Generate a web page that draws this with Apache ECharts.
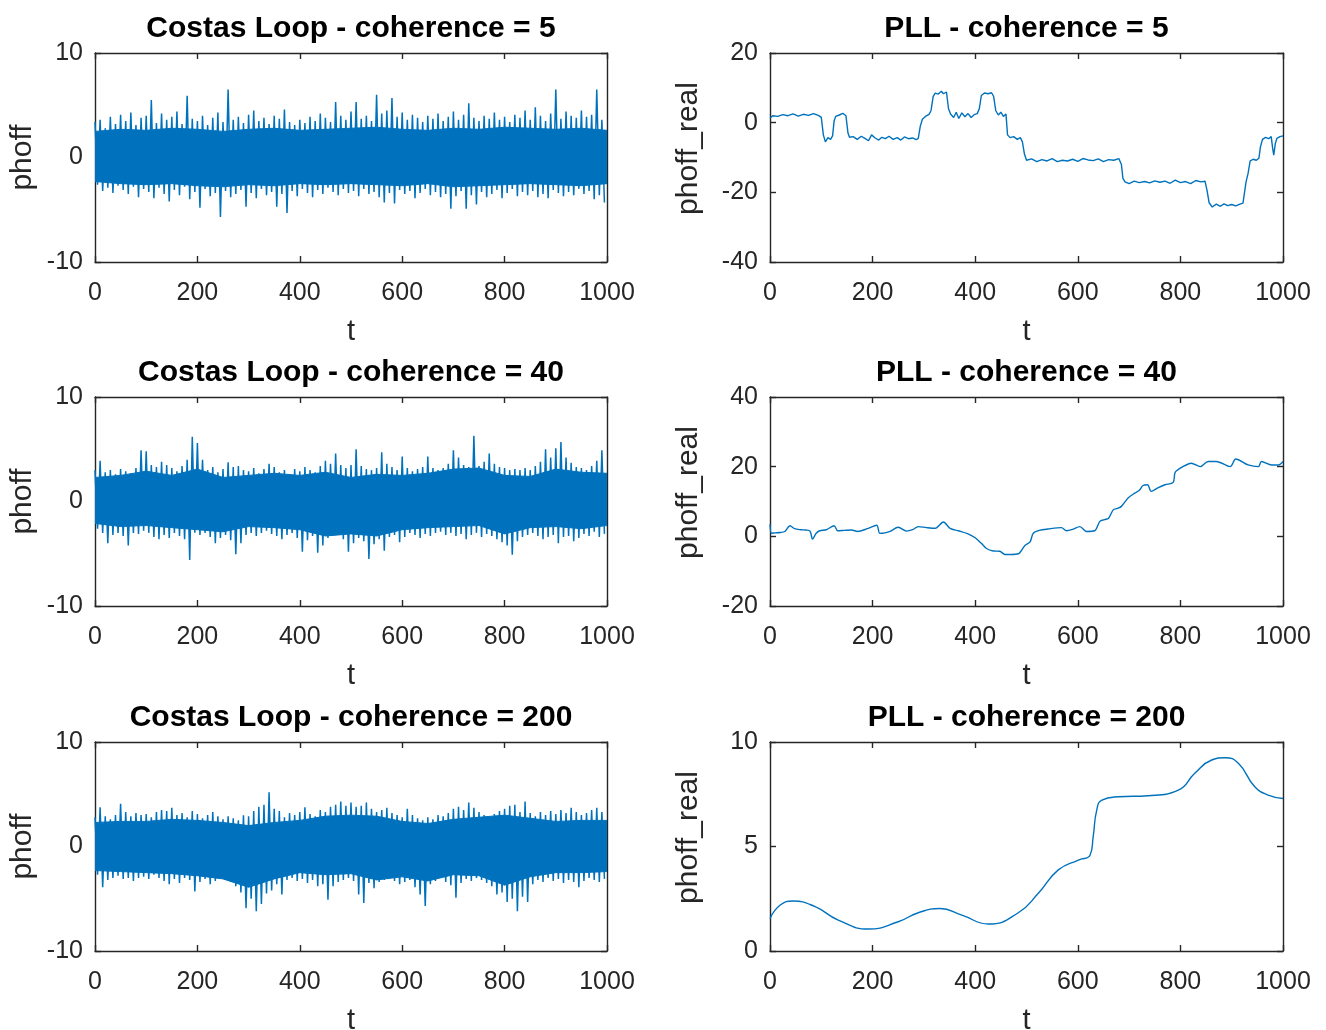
<!DOCTYPE html>
<html>
<head>
<meta charset="utf-8">
<script src="https://cdn.jsdelivr.net/npm/echarts@6/dist/echarts.min.js"></script>
<style>
html,body{margin:0;padding:0;background:#fff;}
#chart{width:1326px;height:1030px;}
</style>
</head>
<body>
<div id="chart"></div>
<script>
// ---------- DATA ----------
const titles = ['Costas Loop - coherence = 5','PLL - coherence = 5','Costas Loop - coherence = 40','PLL - coherence = 40','Costas Loop - coherence = 200','PLL - coherence = 200'];
const yNames = ['phoff','phoff_real','phoff','phoff_real','phoff','phoff_real'];
const xTicks = [0,200,400,600,800,1000];
const yRanges = [[-10,10,10],[-40,20,20],[-10,10,10],[-20,40,20],[-10,10,10],[0,10,5]];

// Costas loop: upper / lower extremes of the noise per 10 t
const c5Hi = [3.4,3.6,2.8,3.9,3.2,4.1,3.5,4.3,3.1,3.8,4.0,5.5,3.3,4.2,3.6,3.9,4.4,3.2,5.9,3.7,3.5,4.0,3.1,3.8,4.3,3.4,6.5,3.6,3.9,3.3,4.1,4.5,3.5,3.8,3.2,4.0,3.7,4.6,3.4,3.1,3.6,3.3,3.9,3.5,4.2,3.8,3.4,5.3,4.0,3.6,4.4,5.3,3.7,4.0,3.5,6.0,4.2,4.5,5.7,3.9,4.3,3.6,4.1,3.8,3.4,4.0,3.7,4.2,3.5,3.9,4.4,3.6,4.1,5.2,3.8,3.5,4.0,3.7,4.3,3.6,3.9,3.4,4.1,3.8,4.5,3.6,4.8,4.0,3.5,4.2,6.5,3.7,4.4,4.0,3.8,4.5,3.9,4.1,6.5,3.6];
const c5Lo = [-2.6,-3.2,-2.9,-3.4,-2.7,-3.1,-3.5,-2.8,-3.8,-3.0,-3.3,-3.9,-2.9,-3.5,-4.2,-3.1,-3.6,-2.8,-4.0,-3.3,-4.8,-3.0,-3.7,-3.4,-5.7,-3.2,-3.8,-3.5,-3.1,-4.7,-3.4,-3.9,-3.0,-3.6,-3.3,-4.7,-3.5,-5.3,-3.2,-3.7,-3.0,-3.4,-3.8,-3.1,-3.5,-2.9,-3.3,-3.6,-3.0,-3.4,-3.2,-3.7,-3.0,-3.5,-3.3,-3.8,-4.3,-3.4,-4.4,-3.1,-3.5,-3.2,-3.9,-3.4,-3.0,-3.6,-3.3,-3.8,-3.5,-4.9,-3.7,-3.2,-4.9,-3.6,-4.5,-3.3,-3.8,-3.5,-3.1,-3.9,-3.4,-3.0,-3.7,-3.3,-3.6,-3.2,-3.8,-3.5,-3.9,-3.1,-3.4,-3.7,-3.3,-3.6,-3.0,-3.5,-3.2,-4.0,-3.6,-4.3];
const c40Hi = [3.0,3.9,2.8,3.0,2.6,3.1,2.9,2.7,3.2,4.9,4.8,3.5,3.3,3.8,3.5,3.2,2.9,3.4,4.0,6.2,5.6,4.0,3.0,3.3,2.8,3.1,3.75,3.3,3.4,3.0,2.9,3.2,2.7,3.1,3.6,3.3,2.8,3.0,2.6,3.1,2.9,3.3,3.0,2.8,3.4,3.9,3.6,4.6,3.5,3.2,3.5,5.0,3.4,3.1,3.0,3.2,4.7,3.6,3.3,3.0,4.3,3.2,2.9,3.1,3.3,4.3,3.2,3.0,3.2,3.6,4.9,4.2,3.5,3.3,6.3,3.4,3.8,4.6,3.6,3.3,3.2,3.0,3.1,3.0,3.2,3.0,3.4,3.8,5.0,4.2,5.1,5.7,4.2,3.7,3.3,3.2,3.0,3.4,3.9,4.9];
const c40Lo = [-2.6,-3.0,-4.0,-3.2,-3.0,-3.3,-4.2,-3.0,-3.1,-2.8,-3.0,-3.4,-3.6,-3.2,-3.5,-3.0,-3.3,-3.6,-5.6,-3.0,-3.2,-3.0,-3.4,-4.0,-3.5,-3.2,-3.7,-5.05,-4.0,-3.2,-3.0,-3.3,-3.0,-2.8,-3.1,-3.3,-3.6,-3.2,-3.0,-3.5,-4.8,-3.7,-3.3,-4.9,-4.2,-3.5,-3.2,-3.0,-3.6,-4.8,-4.0,-3.5,-3.8,-5.5,-4.1,-3.6,-4.7,-3.4,-3.2,-3.9,-3.4,-3.0,-3.2,-3.5,-3.1,-3.3,-3.0,-2.9,-3.2,-3.0,-3.3,-3.1,-3.6,-3.2,-3.0,-3.4,-3.1,-3.3,-3.6,-3.9,-4.2,-5.1,-3.8,-3.4,-3.2,-3.0,-3.3,-3.6,-3.4,-3.2,-4.0,-3.4,-3.3,-3.8,-3.5,-3.1,-3.3,-2.9,-3.4,-3.1];
const c200Hi = [2.8,3.75,2.9,2.6,3.0,4.1,3.3,2.9,3.2,3.0,3.1,2.8,3.3,3.5,3.4,3.7,3.0,3.2,2.8,3.4,3.1,2.7,3.0,3.3,2.9,2.6,2.9,2.7,2.5,3.0,2.9,3.4,3.8,4.0,5.2,3.6,3.4,2.8,3.2,3.0,3.3,3.75,3.1,2.9,3.5,3.3,3.8,4.0,4.3,3.9,4.2,3.8,3.9,4.2,3.6,3.3,3.5,3.7,3.2,3.0,2.8,3.6,3.0,2.7,2.5,2.8,2.6,3.0,2.9,3.2,3.6,3.8,3.5,4.2,3.7,3.3,3.0,2.7,3.1,3.4,3.6,3.9,4.0,3.3,4.3,3.2,2.9,3.3,3.0,3.4,3.1,3.5,3.2,3.7,3.3,3.0,3.2,3.5,3.7,3.3];
const c200Lo = [-2.7,-3.9,-3.2,-3.0,-2.8,-3.1,-3.0,-3.3,-3.0,-2.9,-3.1,-2.7,-3.0,-3.3,-3.6,-3.1,-3.5,-3.0,-3.2,-4.3,-3.4,-3.1,-3.6,-3.3,-3.0,-3.2,-3.4,-3.8,-4.4,-5.9,-5.0,-6.2,-5.5,-4.5,-4.2,-3.6,-4.6,-3.2,-3.0,-3.3,-3.1,-3.5,-3.2,-3.8,-3.6,-5.1,-3.8,-3.4,-3.2,-3.0,-3.3,-4.6,-5.4,-3.5,-4.0,-3.4,-3.2,-3.0,-3.3,-3.6,-3.4,-3.2,-3.9,-4.6,-5.7,-3.6,-3.3,-3.0,-3.4,-3.7,-4.9,-3.5,-3.1,-3.3,-3.0,-3.2,-3.5,-3.8,-4.6,-4.4,-5.3,-5.0,-6.2,-4.8,-5.3,-3.6,-3.2,-3.4,-3.0,-3.3,-3.1,-3.5,-3.2,-3.4,-3.9,-3.3,-3.0,-3.2,-3.4,-3.1];

// Costas loop: edges of the dense core of the noise band, every 50 t
const coreT = [0,50,100,150,200,250,300,350,400,450,500,550,600,650,700,750,800,850,900,950,1000];
const c5CoreHi = [2.5,2.7,2.6,2.8,2.7,2.5,2.7,2.8,2.6,2.7,2.8,2.9,2.7,2.6,2.8,2.7,2.9,2.8,2.7,2.8,2.6];
const c5CoreLo = [-2.3,-2.5,-2.6,-2.5,-2.7,-2.8,-2.6,-2.7,-2.5,-2.6,-2.5,-2.6,-2.7,-2.5,-2.8,-2.7,-2.6,-2.5,-2.6,-2.7,-2.5];
const c40CoreHi = [2.3,2.5,2.9,2.5,3.1,2.3,2.5,2.7,2.5,2.8,2.3,2.6,2.5,2.7,3.1,3.2,2.5,2.4,3.1,2.8,2.7];
const c40CoreLo = [-2.1,-2.4,-2.3,-2.5,-2.7,-2.9,-2.4,-2.5,-2.7,-3.3,-3.1,-3.3,-2.7,-2.5,-2.4,-2.3,-3.1,-2.5,-2.4,-2.6,-2.3];
const c200CoreHi = [2.3,2.4,2.4,2.6,2.5,2.3,2.0,2.3,2.5,2.9,3.0,2.9,2.4,2.2,2.6,2.8,3.0,2.7,2.4,2.5,2.5];
const c200CoreLo = [-2.3,-2.4,-2.5,-2.6,-2.8,-3.1,-3.9,-3.1,-2.5,-2.7,-2.6,-3.2,-2.9,-3.3,-2.7,-2.8,-3.7,-2.9,-2.5,-2.5,-2.4];

// PLL phase offsets
const pll5T = [0,5,15,25,35,45,55,65,75,85,95,100,104,108,113,118,122,125,128,135,142,148,152,155,162,170,178,185,192,198,205,212,218,225,232,240,248,255,262,270,278,285,289,293,297,303,310,314,318,322,328,334,338,344,348,352,358,363,368,374,380,386,392,398,404,408,412,418,425,432,436,440,445,450,455,460,463,468,475,482,488,492,496,500,510,520,530,540,550,560,570,580,590,600,610,620,630,640,650,660,670,680,685,688,692,700,710,720,730,740,750,760,770,780,790,800,810,820,830,840,848,852,856,862,870,878,885,892,900,908,916,922,925,928,932,936,942,948,953,956,960,966,972,977,980,982,985,988,994,1000];
const pll5V = [1.3,2.0,1.8,2.3,2.0,2.5,1.9,2.4,2.1,2.6,2.0,1.5,-3.5,-5.5,-4.3,-4.8,-3.8,0.5,1.8,2.2,2.7,2.0,-3.0,-4.2,-4.0,-4.8,-3.9,-4.5,-5.2,-3.5,-4.4,-5.0,-4.2,-4.6,-3.9,-4.8,-4.3,-5.0,-4.1,-4.6,-4.4,-4.9,-4.5,-1.0,1.0,1.8,2.4,3.5,7.5,8.5,8.2,9.0,8.3,8.8,4.0,2.5,1.5,3.0,1.2,2.8,1.7,2.6,1.5,2.3,2.6,4.0,7.8,8.5,8.3,8.6,7.5,3.5,2.2,3.0,1.8,2.5,-3.5,-4.3,-4.0,-4.8,-4.3,-5.5,-9.0,-10.8,-10.4,-11.2,-10.6,-11.0,-10.3,-11.2,-10.8,-11.0,-10.5,-11.1,-10.3,-10.7,-10.9,-10.4,-11.2,-10.6,-10.8,-10.3,-12.0,-16.0,-17.0,-17.5,-16.8,-17.2,-16.9,-17.3,-16.7,-17.1,-16.8,-17.4,-16.5,-17.2,-16.9,-17.5,-16.6,-17.0,-16.8,-19.5,-23.0,-24.2,-23.4,-24.0,-23.3,-23.8,-23.5,-23.9,-23.4,-23.1,-20.0,-17.0,-14.5,-11.0,-10.5,-10.8,-10.2,-7.0,-4.8,-4.2,-4.6,-4.0,-7.5,-9.3,-6.0,-4.5,-4.0,-3.8];
const pll40T = [0,3,10,20,29,39,48,60,70,78,83,90,97,110,125,132,145,159,171,190,208,214,224,234,250,266,278,289,305,322,338,351,367,385,400,412,422,435,448,458,470,484,497,507,513,525,542,568,578,590,604,617,633,643,652,660,669,677,685,698,711,720,727,736,743,756,770,786,790,805,821,839,854,870,897,908,932,952,958,978,991,1000];
const pll40V = [3.4,0.9,1.0,1.1,1.4,3.05,2.2,1.9,1.8,1.5,-0.8,0.9,1.6,1.9,3.05,1.6,1.7,1.8,1.4,2.2,3.2,0.86,1.0,1.4,2.6,1.5,1.9,2.8,2.5,2.3,4.1,2.3,1.6,0.8,-0.4,-2.0,-3.5,-4.2,-4.3,-5.2,-5.2,-5.0,-2.6,-1.6,0.86,1.7,2.1,2.5,1.6,2.0,2.8,1.4,1.6,4.3,4.8,5.2,7.6,8.0,8.6,11.0,12.4,13.2,14.6,14.8,12.9,13.9,14.8,15.5,18.4,20.0,21.0,20.0,21.5,21.5,20.0,22.2,20.5,20.0,21.5,20.5,20.5,21.5];
const pll200T = [0,20,45,88,133,192,250,289,331,374,426,484,523,562,601,624,630,637,647,679,737,796,828,861,887,913,945,971,1000];
const pll200V = [1.55,2.2,2.39,2.12,1.48,1.05,1.40,1.83,2.03,1.72,1.29,1.83,2.76,3.88,4.35,4.59,5.47,6.75,7.22,7.38,7.43,7.70,8.50,9.14,9.25,8.98,7.86,7.46,7.30];

// ---------- BUILD ----------
function band(hi, lo){
  const out = [];
  for (let i = 0; i < hi.length; i++){
    out.push([i*10, hi[i]]);
    out.push([i*10+5, lo[i]]);
  }
  return out;
}
function pairs(t, v){ return t.map((x,i)=>[x, v[i]]); }

const FONT = "'Liberation Sans', Arial, Helvetica, sans-serif";
const AX = '#262626';
const LINE = '#0072BD';
const lefts = [95, 770];
const widths = [512, 513];
const tops = [53, 397, 742];
const H = 209;
const yNameGap = [57, 66];

const plots = [
  {kind:'noise', hi:c5Hi, lo:c5Lo, coreHi:c5CoreHi, coreLo:c5CoreLo},
  {kind:'pll', t:pll5T, v:pll5V, smooth:false},
  {kind:'noise', hi:c40Hi, lo:c40Lo, coreHi:c40CoreHi, coreLo:c40CoreLo},
  {kind:'pll', t:pll40T, v:pll40V, smooth:0.3},
  {kind:'noise', hi:c200Hi, lo:c200Lo, coreHi:c200CoreHi, coreLo:c200CoreLo},
  {kind:'pll', t:pll200T, v:pll200V, smooth:0.5}
];

const grids = [], xAxes = [], yAxes = [], series = [], graphics = [];
for (let g = 0; g < 6; g++){
  const col = g % 2, row = Math.floor(g/2);
  grids.push({left: lefts[col], top: tops[row], width: widths[col], height: H,
    show:false, outerBoundsMode:'none', containLabel:false});
  const common = {
    gridIndex: g, type:'value',
    axisLine:{show:true, onZero:false, lineStyle:{color:AX, width:1.4}},
    axisTick:{show:true, inside:true, length:6, lineStyle:{color:AX, width:1.4}},
    splitLine:{show:false}
  };
  xAxes.push(Object.assign({}, common, {
    position:'bottom', min:0, max:1000, interval:200,
    axisLabel:{show:true, fontSize:25, fontFamily:FONT, color:AX, margin:19,
      formatter: v => String(v)},
    name:'t', nameLocation:'middle', nameGap:55,
    nameTextStyle:{fontSize:29, fontFamily:FONT, color:AX}
  }));
  xAxes.push(Object.assign({}, common, {
    position:'top', min:0, max:1000, interval:200, axisLabel:{show:false}
  }));
  const yr = yRanges[g];
  yAxes.push(Object.assign({}, common, {
    position:'left', min:yr[0], max:yr[1], interval:yr[2],
    axisLabel:{show:true, fontSize:25, fontFamily:FONT, color:AX, margin:12,
      formatter: v => String(v)},
    name:yNames[g], nameLocation:'middle', nameGap:yNameGap[col], nameRotate:90,
    nameTextStyle:{fontSize:30, fontFamily:FONT, color:AX,
      padding: col === 1 ? [0,0,0,18] : 0}
  }));
  yAxes.push(Object.assign({}, common, {
    position:'right', min:yr[0], max:yr[1], interval:yr[2], axisLabel:{show:false}
  }));
  const p = plots[g];
  if (p.kind === 'noise'){
    // dense core of the band: upper edge filled down past 0, lower edge filled up past 0
    [[p.coreHi, -1], [p.coreLo, 1]].forEach(([arr, org]) => {
      series.push({
        type:'line', xAxisIndex:2*g, yAxisIndex:2*g, data: pairs(coreT, arr),
        showSymbol:false, symbol:'none', lineStyle:{color:LINE, width:1},
        areaStyle:{color:LINE, opacity:1, origin: org}
      });
    });
    series.push({
      type:'line', xAxisIndex:2*g, yAxisIndex:2*g, data: band(p.hi, p.lo),
      showSymbol:false, symbol:'none', lineStyle:{color:LINE, width:1.5}
    });
  } else {
    series.push({
      type:'line', xAxisIndex:2*g, yAxisIndex:2*g, data: pairs(p.t, p.v),
      showSymbol:false, symbol:'none', smooth: p.smooth,
      lineStyle:{color:LINE, width:1.4}
    });
  }
  graphics.push({
    type:'text', x: lefts[col] + widths[col]/2, y: tops[row] - 24,
    style:{text: titles[g], fontSize:30, fontWeight:'bold', fontFamily:FONT,
      fill:'#000', align:'center', verticalAlign:'middle'}
  });
}

const chart = echarts.init(document.getElementById('chart'), null, {renderer:'canvas'});
chart.setOption({
  animation:false,
  backgroundColor:'#fff',
  grid: grids, xAxis: xAxes, yAxis: yAxes, series: series,
  graphic: graphics
});
</script>
</body>
</html>
